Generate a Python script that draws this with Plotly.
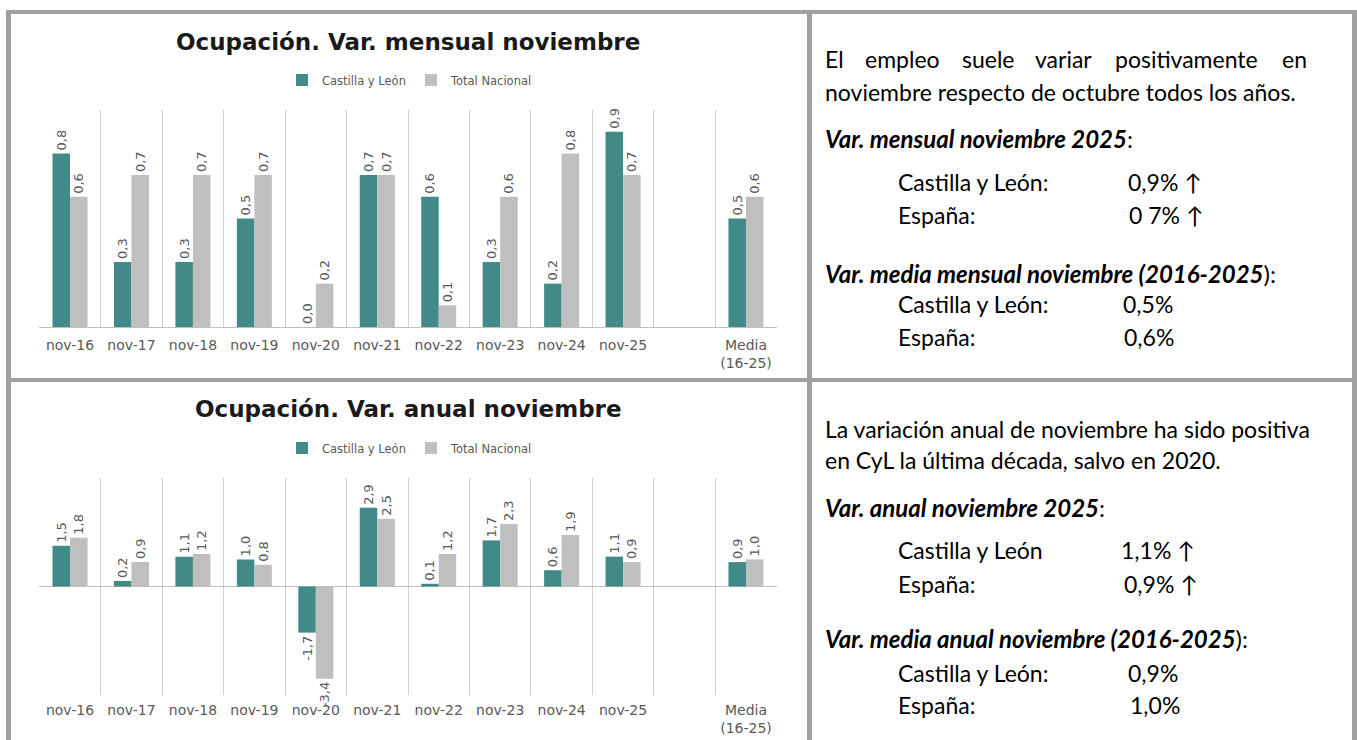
import plotly.graph_objects as go

W, H = 1357, 740

# ---------------- data ----------------
categories = ["nov-16", "nov-17", "nov-18", "nov-19", "nov-20", "nov-21",
              "nov-22", "nov-23", "nov-24", "nov-25", " ", "Media<br>(16-25)"]
mensual_cyl = [0.8, 0.3, 0.3, 0.5, 0.0, 0.7, 0.6, 0.3, 0.2, 0.9, None, 0.5]
mensual_nac = [0.6, 0.7, 0.7, 0.7, 0.2, 0.7, 0.1, 0.6, 0.8, 0.7, None, 0.6]
anual_cyl = [1.5, 0.2, 1.1, 1.0, -1.7, 2.9, 0.1, 1.7, 0.6, 1.1, None, 0.9]
anual_nac = [1.8, 0.9, 1.2, 0.8, -3.4, 2.5, 1.2, 2.3, 1.9, 0.9, None, 1.0]
series_names = ["Castilla y León", "Total Nacional"]
chart_titles = ["Ocupación. Var. mensual noviembre", "Ocupación. Var. anual noviembre"]

TEAL = "#428A87"
GREY = "#BFBFBF"
LABEL = "#595959"
CHART_FONT = "DejaVu Sans"
TEXT_FONT = "Lato"


def px(x):
    return x / W


def py(y):
    return 1 - y / H


def fmt(v):
    return "" if v is None else f"{v:.1f}".replace(".", ",")


fig = go.Figure()

for (vals, name, color) in [(mensual_cyl, series_names[0], TEAL), (mensual_nac, series_names[1], GREY)]:
    fig.add_trace(go.Bar(
        x=categories, y=vals, name=name, marker=dict(color=color, line=dict(width=0)),
        text=[fmt(v) for v in vals], textposition="outside", textangle=-90,
        textfont=dict(family=CHART_FONT, size=13, color=LABEL), constraintext="none",
        cliponaxis=False, xaxis="x", yaxis="y", legend="legend", hoverinfo="skip"))

for (vals, name, color) in [(anual_cyl, series_names[0], TEAL), (anual_nac, series_names[1], GREY)]:
    fig.add_trace(go.Bar(
        x=categories, y=vals, name=name, marker=dict(color=color, line=dict(width=0)),
        text=[fmt(v) for v in vals], textposition="outside", textangle=-90,
        textfont=dict(family=CHART_FONT, size=13, color=LABEL), constraintext="none",
        cliponaxis=False, xaxis="x2", yaxis="y2", legend="legend2", hoverinfo="skip"))

xdom = [px(39.3), px(776.7)]
common_x = dict(type="category", tickson="boundaries", showgrid=True, gridcolor="#CDCDCD",
                gridwidth=1, ticks="", ticklabelstandoff=5,
                tickfont=dict(family=CHART_FONT, size=14, color=LABEL), fixedrange=True)

legend_common = dict(orientation="h", xanchor="center", yanchor="middle", x=px(410),
                     font=dict(family=CHART_FONT, size=11.5, color=LABEL),
                     bgcolor="rgba(0,0,0,0)", itemwidth=30, traceorder="normal")

fig.update_layout(
    width=W, height=H, margin=dict(l=0, r=0, t=0, b=0),
    paper_bgcolor="white", plot_bgcolor="white",
    barmode="group", bargap=0.43, bargroupgap=0,
    xaxis=dict(domain=xdom, anchor="y", showline=True, linecolor="#BFBFBF", linewidth=1, **common_x),
    yaxis=dict(domain=[py(327), py(110)], range=[0, 1], showgrid=False, zeroline=False,
               showticklabels=False, fixedrange=True),
    xaxis2=dict(domain=xdom, anchor="y2", showline=False, **common_x),
    yaxis2=dict(domain=[py(695), py(478)], range=[-4, 4], showgrid=False, zeroline=True,
                zerolinecolor="#BFBFBF", zerolinewidth=1, showticklabels=False, fixedrange=True),
    legend=dict(y=py(80), **legend_common),
    legend2=dict(y=py(448), **legend_common),
    showlegend=True,
)

# chart titles
for t, y in zip(chart_titles, [42, 409]):
    fig.add_annotation(text=f"<b>{t}</b>", x=px(408), y=py(y), xref="paper", yref="paper",
                       xanchor="center", yanchor="middle", showarrow=False,
                       font=dict(family=CHART_FONT, size=23, color="#1A1A1A"))

# panel borders
BORDER = "#A0A0A0"
for (x0, y0, x1, y1) in [(6, 10, 1357, 14), (6, 10, 11, 740), (807, 10, 812, 740),
                         (1352, 10, 1357, 740), (6, 378, 1357, 382)]:
    fig.add_shape(type="rect", xref="paper", yref="paper", x0=px(x0), x1=px(x1),
                  y0=py(y0), y1=py(y1), fillcolor=BORDER, line=dict(width=0), layer="above")

# ---------------- commentary text ----------------
justified_words = ["El", "empleo", "suele", "variar", "positivamente", "en"]
justified_x = [823, 863, 960, 1033, 1113, 1280]

text_lines = [
    ("noviembre respecto de octubre todos los años.", 823, 92, 23),
    ("<b><i>Var. mensual noviembre 2025</i></b>:", 823, 139, 24),
    ("Castilla y León:", 896, 182, 23), ("0,9% ↑", 1126, 182, 23),
    ("España:", 896, 215, 23), ("0 7% ↑", 1127, 215, 23),
    ("<b><i>Var. media mensual noviembre (2016-2025</i></b>):", 823, 273, 24),
    ("Castilla y León:", 896, 304, 23), ("0,5%", 1121, 304, 23),
    ("España:", 896, 337, 23), ("0,6%", 1122, 337, 23),
    ("La variación anual de noviembre ha sido positiva", 823, 429, 23),
    ("en CyL la última década, salvo en 2020.", 823, 460, 23),
    ("<b><i>Var. anual noviembre 2025</i></b>:", 823, 507, 24),
    ("Castilla y León", 896, 550, 23), ("1,1% ↑", 1119, 550, 23),
    ("España:", 896, 584, 23), ("0,9% ↑", 1122, 584, 23),
    ("<b><i>Var. media anual noviembre (2016-2025</i></b>):", 823, 638, 24),
    ("Castilla y León:", 896, 673, 23), ("0,9%", 1126, 673, 23),
    ("España:", 896, 705, 23), ("1,0%", 1128, 705, 23),
]

for w, x in zip(justified_words, justified_x):
    fig.add_annotation(text=w, x=px(x), y=py(59), xref="paper", yref="paper", xanchor="left",
                       yanchor="middle", showarrow=False,
                       font=dict(family=TEXT_FONT, size=23, color="#000000"))
for t, x, y, s in text_lines:
    fig.add_annotation(text=t, x=px(x), y=py(y), xref="paper", yref="paper", xanchor="left",
                       yanchor="middle", showarrow=False,
                       font=dict(family=TEXT_FONT, size=s, color="#000000"))

fig.write_html("out.html", config={"displayModeBar": False},
               post_script="document.body.style.margin='0';document.body.style.overflow='hidden';")
